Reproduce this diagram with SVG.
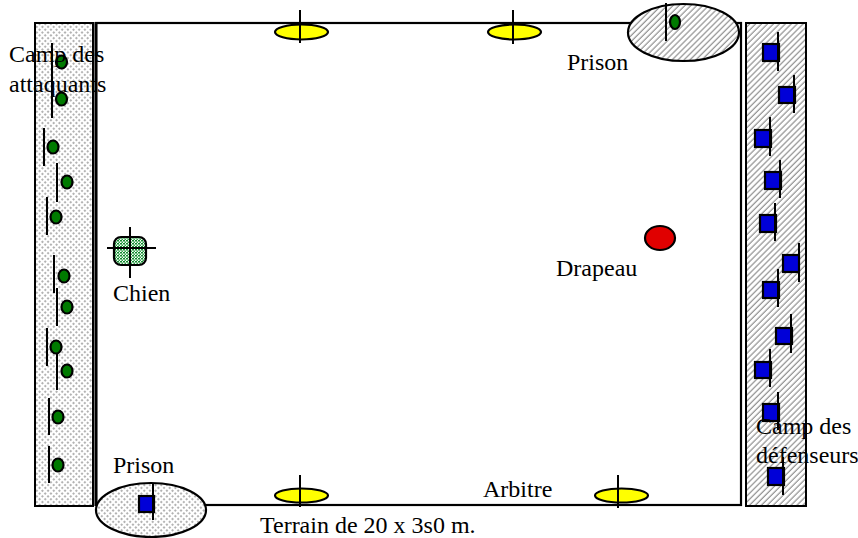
<svg xmlns="http://www.w3.org/2000/svg" width="858" height="538" viewBox="0 0 858 538">
<style>
text{font-family:"Liberation Serif","Times New Roman",serif;font-size:24px;fill:#000}
.pole{stroke:#000;stroke-width:2}
.att{fill:#007a00;stroke:#000;stroke-width:2.2}
.def{fill:#0000d8;stroke:#000;stroke-width:2.2}
.ref{fill:#ffff00;stroke:#000;stroke-width:2.2}
</style>
<defs>
<pattern id="hatch" patternUnits="userSpaceOnUse" width="4.2" height="4.2" patternTransform="rotate(45)">
<rect width="4.2" height="4.2" fill="#fff"/>
<line x1="1" y1="0" x2="1" y2="4.2" stroke="#7a7a7a" stroke-width="1"/>
</pattern>
<pattern id="dots" patternUnits="userSpaceOnUse" width="4" height="4" patternTransform="rotate(45)">
<rect width="4" height="4" fill="#fff"/>
<line x1="1" y1="0" x2="1" y2="2" stroke="#666" stroke-width="1"/>
</pattern>
<pattern id="gdots" patternUnits="userSpaceOnUse" width="3" height="3">
<rect width="3" height="3" fill="#fff"/>
<rect x="0" y="0" width="2" height="1.5" fill="#138a30"/>
<rect x="1.5" y="1.5" width="1.5" height="1.5" fill="#2fa84a"/>
</pattern>
</defs>

<g id="camp-attaquants">
<rect x="35" y="23" width="58" height="483" fill="url(#dots)" stroke="#000" stroke-width="2"/>
</g>
<g id="camp-defenseurs">
<rect x="746" y="23" width="60" height="483" fill="url(#hatch)" stroke="#000" stroke-width="2"/>
</g>
<g id="terrain">
<rect x="96" y="23" width="645" height="482" fill="none" stroke="#000" stroke-width="2.2"/>
<line x1="96" y1="22" x2="96" y2="506" stroke="#000" stroke-width="3"/>
</g>

<g id="prison-haut">
<ellipse cx="683.5" cy="32.5" rx="55.5" ry="28.5" fill="url(#hatch)" stroke="#000" stroke-width="2.2"/>
<line class="pole" x1="666" y1="3" x2="666" y2="41"/>
<ellipse class="att" cx="675" cy="22" rx="5" ry="7"/>
</g>
<g id="prison-bas">
<ellipse cx="151" cy="510" rx="55" ry="27" fill="url(#dots)" stroke="#000" stroke-width="2.2"/>
<rect class="def" x="139" y="496" width="15" height="16"/>
<line class="pole" x1="153" y1="483" x2="153" y2="520"/>
</g>

<g id="arbitres">
<g id="arbitre-1"><ellipse class="ref" cx="301.5" cy="32" rx="26.5" ry="7.5"/><line class="pole" x1="300" y1="10" x2="300" y2="43"/></g>
<g id="arbitre-2"><ellipse class="ref" cx="514.5" cy="32" rx="26.5" ry="7.5"/><line class="pole" x1="513" y1="10" x2="513" y2="44"/></g>
<g id="arbitre-3"><ellipse class="ref" cx="301.5" cy="495.5" rx="26.5" ry="7"/><line class="pole" x1="300" y1="475" x2="300" y2="507"/></g>
<g id="arbitre-4"><ellipse class="ref" cx="621.5" cy="495.5" rx="26.5" ry="7"/><line class="pole" x1="618" y1="475" x2="618" y2="508"/></g>
</g>

<g id="drapeau">
<ellipse cx="660" cy="238" rx="15" ry="12" fill="#e00000" stroke="#000" stroke-width="2.2"/>
</g>

<g id="chien">
<rect x="114" y="237" width="32" height="28" rx="7" fill="url(#gdots)" stroke="#000" stroke-width="2.2"/>
<line class="pole" x1="107" y1="248" x2="156" y2="248"/>
<line class="pole" x1="130" y1="227" x2="130" y2="278"/>
</g>

<g id="attaquants">
<line class="pole" x1="52" y1="43" x2="52" y2="118"/>
<g id="att-1"><ellipse class="att" cx="61.5" cy="62" rx="5.5" ry="6.5"/></g>
<g id="att-2"><ellipse class="att" cx="61.5" cy="99" rx="5.5" ry="6.5"/></g>
<g id="att-3"><line class="pole" x1="44" y1="128" x2="44" y2="166"/><ellipse class="att" cx="53" cy="147" rx="5.5" ry="6.5"/></g>
<g id="att-4"><line class="pole" x1="57" y1="163" x2="57" y2="202"/><ellipse class="att" cx="67" cy="182" rx="5.5" ry="6.5"/></g>
<g id="att-5"><line class="pole" x1="47" y1="197" x2="47" y2="235"/><ellipse class="att" cx="56" cy="217" rx="5.5" ry="6.5"/></g>
<g id="att-6"><line class="pole" x1="54" y1="255" x2="54" y2="293"/><ellipse class="att" cx="64" cy="276" rx="5.5" ry="6.5"/></g>
<g id="att-7"><line class="pole" x1="57" y1="288" x2="57" y2="326"/><ellipse class="att" cx="67" cy="307" rx="5.5" ry="6.5"/></g>
<g id="att-8"><line class="pole" x1="47" y1="328" x2="47" y2="366"/><ellipse class="att" cx="56" cy="347" rx="5.5" ry="6.5"/></g>
<g id="att-9"><line class="pole" x1="57" y1="353" x2="57" y2="390"/><ellipse class="att" cx="67" cy="371" rx="5.5" ry="6.5"/></g>
<g id="att-10"><line class="pole" x1="49" y1="398" x2="49" y2="435"/><ellipse class="att" cx="58" cy="417" rx="5.5" ry="6.5"/></g>
<g id="att-11"><line class="pole" x1="49" y1="446" x2="49" y2="483"/><ellipse class="att" cx="58" cy="465" rx="5.5" ry="6.5"/></g>
</g>

<g id="defenseurs">
<g id="def-1"><rect class="def" x="763" y="44" width="16" height="17"/><line class="pole" x1="778" y1="32" x2="778" y2="71"/></g>
<g id="def-2"><rect class="def" x="779" y="87" width="16" height="16"/><line class="pole" x1="794" y1="75" x2="794" y2="113"/></g>
<g id="def-3"><rect class="def" x="755" y="130" width="16" height="17"/><line class="pole" x1="770" y1="117" x2="770" y2="156"/></g>
<g id="def-4"><rect class="def" x="765" y="172" width="16" height="17"/><line class="pole" x1="780" y1="160" x2="780" y2="198"/></g>
<g id="def-5"><rect class="def" x="760" y="215" width="16" height="17"/><line class="pole" x1="775" y1="203" x2="775" y2="241"/></g>
<g id="def-6"><rect class="def" x="783" y="255" width="16" height="17"/><line class="pole" x1="799" y1="243" x2="799" y2="282"/></g>
<g id="def-7"><rect class="def" x="763" y="282" width="16" height="16"/><line class="pole" x1="778" y1="269" x2="778" y2="307"/></g>
<g id="def-8"><rect class="def" x="776" y="328" width="16" height="16"/><line class="pole" x1="791" y1="314" x2="791" y2="353"/></g>
<g id="def-9"><rect class="def" x="755" y="362" width="16" height="16"/><line class="pole" x1="770" y1="349" x2="770" y2="387"/></g>
<g id="def-10"><rect class="def" x="763" y="404" width="16" height="17"/><line class="pole" x1="778" y1="392" x2="778" y2="430"/></g>
<g id="def-11"><rect class="def" x="768" y="468" width="16" height="17"/><line class="pole" x1="783" y1="457" x2="783" y2="495"/></g>
</g>

<g id="labels">
<text x="9" y="62">Camp des</text>
<text x="9" y="92">attaquants</text>
<text x="567" y="70">Prison</text>
<text x="556" y="276">Drapeau</text>
<text x="113" y="301">Chien</text>
<text x="113" y="473">Prison</text>
<text x="483" y="497">Arbitre</text>
<text x="756" y="434">Camp des</text>
<text x="756" y="463">défenseurs</text>
<text x="260" y="533">Terrain de 20 x 3s0 m.</text>
</g>
</svg>
